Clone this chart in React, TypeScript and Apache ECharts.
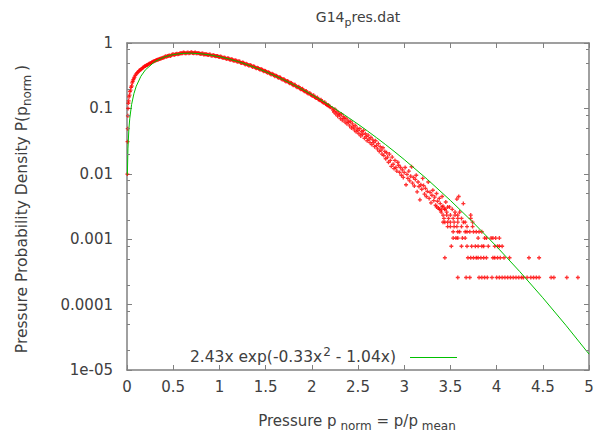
import React, { useEffect, useRef } from "react";
import * as echarts from "echarts";

// ---------- data ----------
const xTickValues = [0, 0.5, 1, 1.5, 2, 2.5, 3, 3.5, 4, 4.5, 5];
const yTickLabels = ["1e-05", "0.0001", "0.001", "0.01", "0.1", "1"];
const yMinorTicks = [
  2e-5, 5e-5, 8e-5, 2e-4, 5e-4, 8e-4, 2e-3, 5e-3, 8e-3, 2e-2, 5e-2, 8e-2, 0.2, 0.5, 0.8,
];

// fit curve 2.43x exp(-0.33x^2 - 1.04x) as drawn (green)
const curveX = [
  0.004, 0.01, 0.02, 0.03, 0.05, 0.075, 0.1, 0.15, 0.2, 0.3, 0.4, 0.5, 0.6, 0.7, 0.8, 0.9, 1.0,
  1.1, 1.2, 1.3, 1.4, 1.5, 1.6, 1.7, 1.8, 1.9, 2.0, 2.1, 2.2, 2.3, 2.4, 2.5, 2.6, 2.7, 2.8, 2.9,
  3.0, 3.25, 3.5, 3.75, 4.0, 4.25, 4.5, 4.75, 5.0,
];
const curveY = [
  0.00968, 0.02405, 0.04759, 0.07064, 0.11525, 0.16826, 0.21828, 0.30955, 0.38956, 0.518,
  0.6082, 0.6651, 0.6937, 0.6987, 0.6849, 0.6566, 0.6175, 0.5711, 0.5205, 0.4679, 0.4154,
  0.3645, 0.3163, 0.2716, 0.231, 0.1945, 0.1622, 0.1341, 0.1098, 0.0892, 0.0718, 0.0574,
  0.04545, 0.03572, 0.02785, 0.02154, 0.01652, 0.008236, 0.003919, 0.001781, 0.0007729,
  0.00032056, 0.00012715, 0.00004826, 0.000017524,
];

// red measured points: steep rise near zero
const riseX = [
  0.004, 0.006, 0.008, 0.01, 0.012, 0.015, 0.018, 0.022, 0.027, 0.032, 0.038, 0.044, 0.05,
  0.056, 0.062, 0.068, 0.075, 0.082, 0.09, 0.1, 0.11, 0.12, 0.13, 0.14, 0.15, 0.16, 0.17, 0.18,
  0.19, 0.2, 0.21, 0.22, 0.23, 0.24, 0.25, 0.26, 0.27, 0.28, 0.29, 0.3, 0.31, 0.32, 0.33, 0.34,
  0.35, 0.36, 0.37, 0.38, 0.39,
];
const riseY = [
  0.0099, 0.031, 0.049, 0.077, 0.1, 0.12, 0.13, 0.15, 0.16, 0.18, 0.19, 0.21, 0.22, 0.245, 0.26,
  0.275, 0.29, 0.3, 0.32, 0.335, 0.35, 0.36, 0.375, 0.385, 0.395, 0.405, 0.42, 0.425, 0.44,
  0.445, 0.455, 0.46, 0.475, 0.48, 0.49, 0.495, 0.51, 0.515, 0.525, 0.53, 0.54, 0.55, 0.555,
  0.56, 0.57, 0.575, 0.58, 0.59, 0.595,
];

// dense band along the curve, two interleaved rows
const bandAX = [
  0.4, 0.42, 0.44, 0.46, 0.48, 0.5, 0.52, 0.54, 0.56, 0.58, 0.6, 0.62, 0.64, 0.66, 0.68, 0.7,
  0.72, 0.74, 0.76, 0.78, 0.8, 0.82, 0.84, 0.86, 0.88, 0.9, 0.92, 0.94, 0.96, 0.98, 1.0, 1.02,
  1.04, 1.06, 1.08, 1.1, 1.12, 1.14, 1.16, 1.18, 1.2, 1.22, 1.24, 1.26, 1.28, 1.3, 1.32, 1.34,
  1.36, 1.38, 1.4, 1.42, 1.44, 1.46, 1.48, 1.5, 1.52, 1.54, 1.56, 1.58, 1.6, 1.62, 1.64, 1.66,
  1.68, 1.7, 1.72, 1.74, 1.76, 1.78, 1.8, 1.82, 1.84, 1.86, 1.88, 1.9, 1.92, 1.94, 1.96, 1.98,
  2.0, 2.02, 2.04, 2.06, 2.08, 2.1, 2.12, 2.14, 2.16, 2.18, 2.2,
];
const bandAY = [
  0.6, 0.625, 0.63, 0.645, 0.65, 0.67, 0.665, 0.685, 0.68, 0.695, 0.7, 0.71, 0.7, 0.715, 0.705,
  0.72, 0.7, 0.715, 0.695, 0.7, 0.68, 0.69, 0.67, 0.675, 0.655, 0.665, 0.64, 0.65, 0.625, 0.635,
  0.61, 0.615, 0.59, 0.595, 0.57, 0.58, 0.555, 0.56, 0.535, 0.54, 0.515, 0.52, 0.495, 0.5, 0.47,
  0.475, 0.45, 0.455, 0.43, 0.435, 0.41, 0.415, 0.39, 0.395, 0.37, 0.372, 0.35, 0.352, 0.33,
  0.333, 0.31, 0.314, 0.293, 0.296, 0.276, 0.279, 0.258, 0.262, 0.242, 0.245, 0.226, 0.229,
  0.211, 0.214, 0.197, 0.199, 0.183, 0.185, 0.169, 0.171, 0.157, 0.159, 0.146, 0.147, 0.135,
  0.136, 0.124, 0.124, 0.114, 0.113, 0.104,
];
const bandBX = [
  0.41, 0.43, 0.45, 0.47, 0.49, 0.51, 0.53, 0.55, 0.57, 0.59, 0.61, 0.63, 0.65, 0.67, 0.69,
  0.71, 0.73, 0.75, 0.77, 0.79, 0.81, 0.83, 0.85, 0.87, 0.89, 0.91, 0.93, 0.95, 0.97, 0.99,
  1.01, 1.03, 1.05, 1.07, 1.09, 1.11, 1.13, 1.15, 1.17, 1.19, 1.21, 1.23, 1.25, 1.27, 1.29,
  1.31, 1.33, 1.35, 1.37, 1.39, 1.41, 1.43, 1.45, 1.47, 1.49, 1.51, 1.53, 1.55, 1.57, 1.59,
  1.61, 1.63, 1.65, 1.67, 1.69, 1.71, 1.73, 1.75, 1.77, 1.79, 1.81, 1.83, 1.85, 1.87, 1.89,
  1.91, 1.93, 1.95, 1.97, 1.99, 2.01, 2.03, 2.05, 2.07, 2.09, 2.11, 2.13, 2.15, 2.17, 2.19,
];
const bandBY = [
  0.615, 0.615, 0.64, 0.635, 0.665, 0.655, 0.68, 0.675, 0.69, 0.695, 0.715, 0.695, 0.71, 0.7,
  0.715, 0.705, 0.71, 0.7, 0.705, 0.685, 0.69, 0.665, 0.675, 0.66, 0.665, 0.645, 0.65, 0.63,
  0.635, 0.615, 0.62, 0.6, 0.6, 0.58, 0.585, 0.56, 0.565, 0.54, 0.545, 0.52, 0.525, 0.5, 0.505,
  0.48, 0.48, 0.46, 0.462, 0.44, 0.44, 0.42, 0.42, 0.4, 0.4, 0.38, 0.378, 0.36, 0.357, 0.34,
  0.338, 0.32, 0.318, 0.3, 0.299, 0.283, 0.28, 0.265, 0.263, 0.248, 0.246, 0.232, 0.229, 0.216,
  0.213, 0.201, 0.198, 0.187, 0.183, 0.173, 0.17, 0.161, 0.156, 0.149, 0.144, 0.138, 0.133,
  0.127, 0.122, 0.117, 0.112, 0.107,
];

// scattered tail falling below the fit
const tailX = [
  2.22, 2.23, 2.24, 2.25, 2.26, 2.27, 2.28, 2.29, 2.3, 2.31, 2.32, 2.33, 2.34, 2.35, 2.36, 2.37,
  2.38, 2.39, 2.4, 2.41, 2.42, 2.43, 2.44, 2.45, 2.46, 2.47, 2.48, 2.49, 2.5, 2.51, 2.52, 2.53,
  2.54, 2.55, 2.56, 2.57, 2.58, 2.59, 2.6, 2.61, 2.62, 2.63, 2.64, 2.65, 2.66, 2.67, 2.68, 2.69,
  2.7, 2.71, 2.72, 2.73, 2.74, 2.75, 2.76, 2.77, 2.78, 2.79, 2.8, 2.81, 2.82, 2.83, 2.84, 2.85,
  2.86, 2.87, 2.88, 2.89, 2.9, 2.91, 2.92, 2.93, 2.94, 2.95, 2.96, 2.97, 2.98, 2.99, 3.0, 3.01,
  3.02, 3.03, 3.04, 3.05, 3.06, 3.07, 3.08, 3.09, 3.1, 3.11, 3.12, 3.13, 3.14, 3.15, 3.16, 3.17,
  3.18, 3.19, 3.2, 3.21, 3.22, 3.23, 3.24, 3.25, 3.26, 3.27, 3.28, 3.29, 3.3, 3.31, 3.32, 3.33,
  3.34, 3.35, 3.36, 3.37, 3.38, 3.39, 3.4, 3.41, 3.42, 3.44, 3.45, 3.47, 3.57, 3.59, 3.64,
];
const tailY = [
  0.101, 0.094, 0.088, 0.097, 0.082, 0.09, 0.076, 0.085, 0.079, 0.07, 0.082, 0.066, 0.075, 0.07,
  0.062, 0.071, 0.058, 0.066, 0.061, 0.054, 0.063, 0.05, 0.058, 0.052, 0.047, 0.055, 0.044,
  0.05, 0.046, 0.041, 0.049, 0.038, 0.044, 0.04, 0.046, 0.035, 0.041, 0.037, 0.032, 0.039,
  0.034, 0.03, 0.036, 0.028, 0.033, 0.03, 0.026, 0.032, 0.027, 0.024, 0.029, 0.022, 0.026,
  0.023, 0.02, 0.025, 0.019, 0.022, 0.017, 0.021, 0.018, 0.015, 0.02, 0.016, 0.013, 0.018,
  0.014, 0.012, 0.016, 0.0125, 0.011, 0.015, 0.0135, 0.0105, 0.0125, 0.0095, 0.0115, 0.0088,
  0.0105, 0.0125, 0.0068, 0.0098, 0.0085, 0.011, 0.0078, 0.0092, 0.0128, 0.0072, 0.0088,
  0.0065, 0.0082, 0.0095, 0.0053, 0.0075, 0.0064, 0.004, 0.0068, 0.0058, 0.0085, 0.0066,
  0.0049, 0.006, 0.0045, 0.0054, 0.0075, 0.0042, 0.0052, 0.0036, 0.0047, 0.0056, 0.0039,
  0.0044, 0.0033, 0.005, 0.0038, 0.003, 0.0042, 0.0035, 0.0028, 0.0045, 0.0032, 0.0029, 0.0037,
  0.0031, 0.0041, 0.0045, 0.0035,
];

// quantised low-count rows: level value and the x positions on that level
const countLevelY = [
  2.6e-4, 5.2e-4, 7.8e-4, 1.04e-3, 1.3e-3, 1.56e-3, 1.82e-3, 2.08e-3, 2.34e-3, 2.6e-3, 2.86e-3,
  3.12e-3,
];
const countLevelX = [
  [3.58, 3.67, 3.71, 3.81, 3.84, 3.87, 3.9, 3.95, 4.0, 4.03, 4.06, 4.09, 4.12, 4.15, 4.18, 4.21,
    4.24, 4.27, 4.29, 4.33, 4.37, 4.4, 4.43, 4.46, 4.59, 4.62, 4.76, 4.88],
  [3.44, 3.69, 3.72, 3.75, 3.78, 3.8, 3.83, 3.86, 3.89, 3.96, 3.98, 4.01, 4.04, 4.08, 4.14, 4.35,
    4.46],
  [3.51, 3.62, 3.68, 3.73, 3.77, 3.8, 3.84, 3.86, 3.91, 3.98, 4.01, 4.03, 4.06],
  [3.53, 3.56, 3.58, 3.63, 3.66, 3.8, 3.87, 3.89, 3.94, 3.96, 3.99, 4.03],
  [3.53, 3.58, 3.6, 3.66, 3.68, 3.71, 3.75, 3.78, 3.81, 3.84],
  [3.47, 3.5, 3.54, 3.57, 3.62, 3.68, 3.74],
  [3.42, 3.44, 3.47, 3.5, 3.54, 3.58, 3.64, 3.66, 3.74],
  [3.43, 3.48, 3.53, 3.58, 3.62, 3.72],
  [3.42, 3.46, 3.5, 3.55, 3.58, 3.72],
  [3.4, 3.46, 3.55, 3.6],
  [3.38, 3.44, 3.52],
  [3.35, 3.41, 3.49],
];

// ---------- chart ----------
const FONT = "DejaVu Sans";
const TXT = "#404040";
const BORDER = "#808080";
const GREEN = "#00c000";
const RED = "#ff0000";
const PLUS = "path://M1 0h1v3h-1z M0 1h3v1h-3z";

function pairs(xs: number[], ys: number[]) {
  return xs.map((x, i) => [x, ys[i]]);
}

function richSet(size: number) {
  const small = Math.round(size * 0.78);
  return {
    n: { fontFamily: FONT, fontSize: size, fill: TXT, lineHeight: 22, verticalAlign: "middle" },
    s: { fontFamily: FONT, fontSize: small, fill: TXT, lineHeight: 12, verticalAlign: "bottom" },
    p: { fontFamily: FONT, fontSize: small, fill: TXT, lineHeight: 12, verticalAlign: "top", padding: [0, 0, 0, 1] },
  };
}

export default function App() {
  const ref = useRef<HTMLDivElement>(null);
  useEffect(() => {
    if (!ref.current) return;
    const chart = echarts.init(ref.current, undefined, { renderer: "svg" });

    const redData: number[][] = [
      ...pairs(riseX, riseY),
      ...pairs(bandAX, bandAY),
      ...pairs(bandBX, bandBY),
      ...pairs(tailX, tailY),
    ];
    countLevelX.forEach((row, k) => row.forEach((x) => redData.push([x, countLevelY[k]])));

    const axisLine = { show: true, onZero: false, lineStyle: { color: BORDER, width: 1.5 } };
    const xBase = {
      type: "value",
      min: 0,
      max: 5,
      interval: 0.5,
      axisLine,
      splitLine: { show: false },
      axisTick: { show: true, inside: true, length: 5, lineStyle: { color: BORDER } },
    };
    const yBase = {
      type: "log",
      logBase: 10,
      min: 1e-5,
      max: 1,
      axisLine,
      splitLine: { show: false },
      axisTick: { show: true, inside: true, length: 5, lineStyle: { color: BORDER } },
    };

    chart.setOption({
      animation: false,
      textStyle: { fontFamily: FONT },
      grid: { left: 127, right: 11, top: 43, bottom: 62, containLabel: false, outerBoundsMode: "none" },
      xAxis: [
        {
          ...xBase,
          position: "bottom",
          axisLabel: {
            color: TXT,
            fontSize: 15,
            fontFamily: FONT,
            margin: 9,
            customValues: xTickValues,
          },
        },
        { ...xBase, position: "top", axisLabel: { show: false } },
      ],
      yAxis: [
        {
          ...yBase,
          position: "left",
          axisLabel: {
            color: TXT,
            fontSize: 15,
            fontFamily: FONT,
            margin: 14,
            formatter: (v: number) => yTickLabels[Math.round(Math.log10(v)) + 5],
          },
        },
        { ...yBase, position: "right", axisLabel: { show: false } },
      ],
      series: [
        {
          type: "scatter",
          xAxisIndex: 0,
          yAxisIndex: 0,
          data: redData,
          symbol: PLUS,
          symbolSize: 4,
          itemStyle: { color: RED },
          z: 2,
        },
        {
          type: "line",
          xAxisIndex: 0,
          yAxisIndex: 0,
          data: pairs(curveX, curveY),
          showSymbol: false,
          symbol: "none",
          lineStyle: { color: GREEN, width: 1 },
          z: 3,
        },
        {
          type: "custom",
          xAxisIndex: 0,
          yAxisIndex: 0,
          data: yMinorTicks.map((v) => [0, v]),
          silent: true,
          z: 4,
          renderItem: (params: any, api: any) => {
            const p = api.coord([0, api.value(1)]);
            const cs = params.coordSys;
            const y = Math.round(p[1]) + 0.5;
            const st = { stroke: BORDER, lineWidth: 1 };
            return {
              type: "group",
              children: [
                { type: "line", shape: { x1: cs.x, y1: y, x2: cs.x + 3, y2: y }, style: st },
                {
                  type: "line",
                  shape: { x1: cs.x + cs.width - 3, y1: y, x2: cs.x + cs.width, y2: y },
                  style: st,
                },
              ],
            };
          },
        },
      ],
      graphic: [
        {
          type: "text",
          x: 358,
          y: 17,
          style: {
            text: "{n|G14}{s|p}{n|res.dat}",
            rich: richSet(14),
            align: "center",
            verticalAlign: "middle",
          },
        },
        {
          type: "text",
          x: 357,
          y: 421,
          style: {
            text: "{n|Pressure p}{s| norm}{n| = p/p}{s| mean}",
            rich: richSet(15),
            align: "center",
            verticalAlign: "middle",
          },
        },
        {
          type: "text",
          x: 22,
          y: 209,
          rotation: Math.PI / 2,
          style: {
            text: "{n|Pressure Probability Density P(p}{s|norm }{n|)}",
            rich: richSet(15.5),
            align: "center",
            verticalAlign: "middle",
          },
        },
        {
          type: "text",
          x: 396,
          y: 357,
          style: {
            text: "{n|2.43x exp(-0.33x}{p|2}{n| - 1.04x)}",
            rich: richSet(15.5),
            align: "right",
            verticalAlign: "middle",
          },
        },
        {
          type: "line",
          shape: { x1: 410, y1: 357.5, x2: 457, y2: 357.5 },
          style: { stroke: GREEN, lineWidth: 1 },
        },
      ],
    });
    return () => chart.dispose();
  }, []);
  return (
    <div
      ref={ref}
      style={{ position: "absolute", left: 0, top: 0, width: 600, height: 432 }}
    />
  );
}
